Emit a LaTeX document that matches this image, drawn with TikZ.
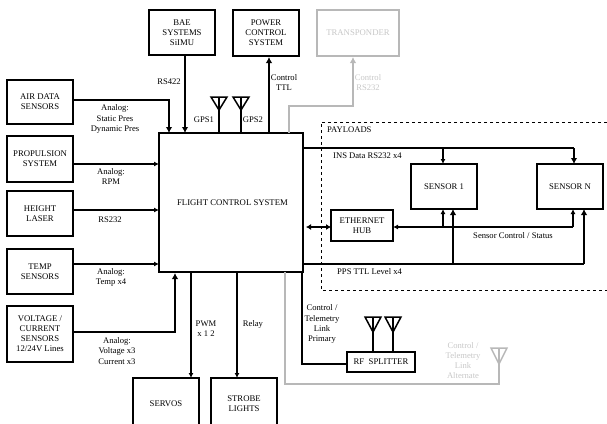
\documentclass[tikz,border=0pt]{standalone}
\usepackage{fontspec}
\setmainfont{Liberation Serif}
\usetikzlibrary{arrows.meta}
\definecolor{gr}{gray}{0.72}
\definecolor{grt}{gray}{0.78}
\tikzset{
 x=1pt,y=-1pt,
 box/.style={draw=black,line width=1.5pt,fill=white,align=center,font=\fontsize{8.7}{10}\selectfont,inner sep=0,outer sep=0,anchor=north west},
 gbox/.style={box,draw=gr,text=grt},
 lab/.style={font=\fontsize{8.6}{10}\selectfont,align=center,inner sep=0},
 glab/.style={lab,text=grt},
 con/.style={line width=1.4pt,-{Latex[length=6pt,width=6.5pt]}},
 cons/.style={line width=1.4pt,-{Latex[length=5pt,width=5pt]}},
 conb/.style={line width=1.4pt,{Latex[length=5pt,width=6pt]}-{Latex[length=5pt,width=6pt]}},
 lin/.style={line width=1.4pt},
 gcon/.style={line width=1.4pt,draw=gr,-{Latex[length=6pt,width=6.5pt]}},
 glin/.style={line width=1.4pt,draw=gr},
 ant/.style={line width=1.5pt,draw=black,line join=miter},
 gant/.style={line width=1.5pt,draw=gr},
}
\begin{document}
\begin{tikzpicture}
\useasboundingbox (0,0) rectangle (607,423);
\begin{scope}
\clip (0,0) rectangle (607,423);
\node[box,minimum width=66pt,minimum height=45pt] (bae) at (149,10) {BAE\\SYSTEMS\\SiIMU};
\node[box,minimum width=66pt,minimum height=46pt] (pow) at (233,10) {POWER\\CONTROL\\SYSTEM};
\node[gbox,minimum width=82pt,minimum height=46pt] (tra) at (317,10) {TRANSPONDER};
\node[box,minimum width=66pt,minimum height=44pt] (air) at (7,80) {AIR DATA\\SENSORS};
\node[box,minimum width=66pt,minimum height=46pt] (pro) at (7,136) {PROPULSION\\SYSTEM};
\node[box,minimum width=66pt,minimum height=45pt] (hei) at (7,191) {HEIGHT\\LASER};
\node[box,minimum width=66pt,minimum height=45pt] (tem) at (7,249) {TEMP\\SENSORS};
\node[box,minimum width=66pt,minimum height=56pt] (vol) at (7,306) {VOLTAGE /\\CURRENT\\SENSORS\\12/24V Lines};
\node[box,minimum width=144pt,minimum height=139pt] (fcs) at (159,133) {\hspace*{3pt}FLIGHT CONTROL SYSTEM};
\node[box,minimum width=66pt,minimum height=52pt] (ser) at (133,378) {SERVOS};
\node[box,minimum width=66pt,minimum height=52pt] (str) at (211,378) {STROBE\\LIGHTS};
\node[box,minimum width=66pt,minimum height=45pt] (s1) at (411,164) {SENSOR 1};
\node[box,minimum width=66pt,minimum height=45pt] (sn) at (537,164) {SENSOR N};
\node[box,minimum width=62pt,minimum height=31pt] (eth) at (331,210) {ETHERNET\\HUB};
\node[box,minimum width=68pt,minimum height=20pt] (rf) at (347,352) {RF\ \ SPLITTER};
\end{scope}
\draw[dashed,line width=0.8pt] (607,122) -- (321,122) -- (321,290) -- (607,290);
% inputs
\draw[con] (air.east |- 0,100) -| (169,133);
\draw[con] (185,55) -- (185,133);
\draw[cons] (pro.east |- 0,164) -- (159,164);
\draw[cons] (hei.east |- 0,210) -- (159,210);
\draw[cons] (tem.east |- 0,264) -- (159,264);
\draw[con] (vol.east |- 0,332) -| (175,273);
\draw[con] (269,133) -- (269,57);
\draw[cons] (191,272) -- (191,378);
\draw[cons] (237,272) -- (237,378);
% gray
\coordinate (tb) at (353,57);
\draw[gcon] (289,133) -- (289,106) -- (353,106) -- (tb);
\draw[glin] (285,272) -- (285,384) -- (499,384) -- (499,348);
\draw[lin] (302,272) -- (302,364) -- (rf.west |- 0,364);
% antennas
\foreach \x in {219,241}{
 \draw[lin] (\x,133) -- (\x,97);
 \draw[ant] (\x-8,97) -- (\x+8,97) -- (\x,110) -- cycle;
}
\foreach \x in {373,393}{
 \draw[lin] (\x,352) -- (\x,317);
 \draw[ant] (\x-8,317) -- (\x+8,317) -- (\x,332) -- cycle;
}
\draw[gant] (491,348) -- (507,348) -- (499,364) -- cycle;
% payload bus
\draw[lin] (303,148) -- (574,148);
\draw[cons] (443,148) -- (443,164);
\draw[con] (574,148) -- (574,164);
\draw[conb] (306,227) -- (331,227);
\draw[cons] (573,227) -- (573,209);
\draw[cons] (443,227) -- (443,209);
\draw[cons] (573,227) -- (393,227);
\draw[lin] (303,264) -- (584,264);
\draw[con] (453,264) -- (453,209);
\draw[con] (584,264) -- (584,209);
% labels
\node[lab] at (115,119) {Analog:\\[1pt]Static Pres\\Dynamic Pres};
\node[lab] at (169,82) {RS422};
\node[lab] at (111,177) {Analog:\\RPM};
\node[lab] at (110,220) {RS232};
\node[lab] at (111,277) {Analog:\\Temp x4};
\node[lab] at (117,351) {Analog:\\Voltage x3\\[1pt]Current x3};
\node[lab] at (204,120) {GPS1};
\node[lab] at (253,120) {GPS2};
\node[lab] at (284,83) {Control\\TTL};
\node[glab] at (368,83) {Control\\RS232};
\node[lab,anchor=west] at (327,130) {PAYLOADS};
\node[lab,anchor=west] at (333,156) {INS Data RS232 x4};
\node[lab] at (513,236) {Sensor Control / Status};
\node[lab,anchor=west] at (337,272) {PPS TTL Level x4};
\node[lab] at (206,329) {PWM\\x 1 2};
\node[lab] at (253,324) {Relay};
\node[lab] at (322,324) {Control /\\[1pt]Telemetry\\Link\\Primary};
\node[glab] at (463,361) {Control /\\Telemetry\\Link\\Alternate};
\end{tikzpicture}
\end{document}
